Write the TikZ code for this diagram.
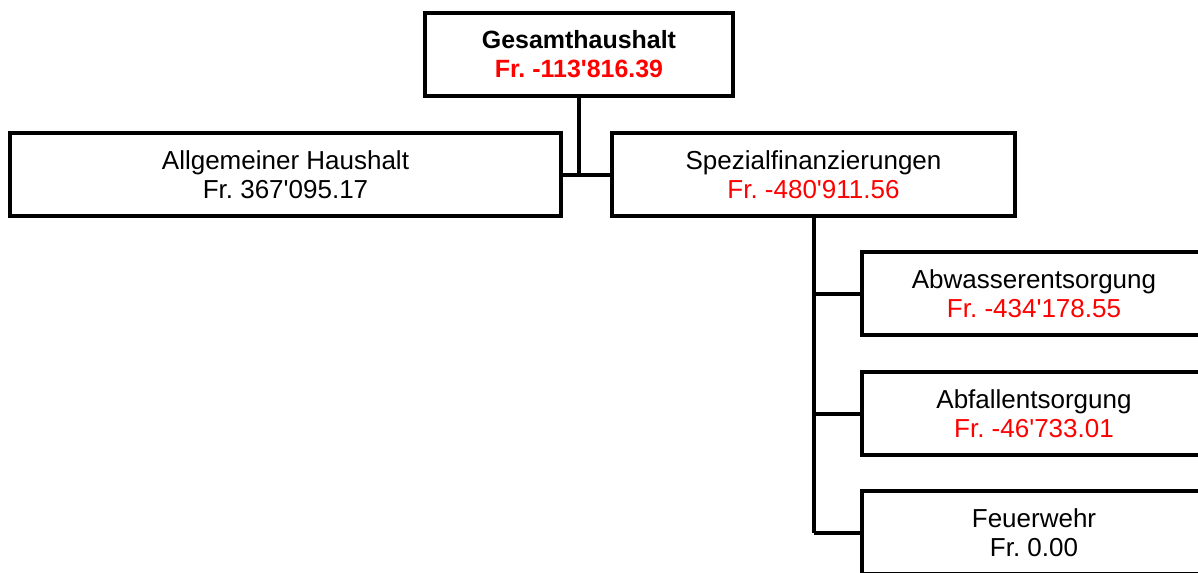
\documentclass[tikz,border=0pt]{standalone}
\usepackage{fontspec}
\setmainfont{Liberation Sans}
\usetikzlibrary{calc}
\frenchspacing

\begin{document}
\begin{tikzpicture}[x=0.02cm,y=-0.02cm,
    box/.style={draw,line width=0.09cm,align=center,inner sep=0pt,minimum height=1.66cm,font=\fontsize{14.8}{16.4}\selectfont},
    link/.style={line width=0.08cm}]
\useasboundingbox (0,0) rectangle (1198,572);

\node[box,minimum width=6.16cm,font=\bfseries\fontsize{14.2}{16.4}\selectfont] (ges) at (579,54.5) {Gesamthaushalt\\\textcolor{red}{Fr. -113\textquotesingle816.39}};

\node[box,minimum width=11.02cm] (allg) at (285.5,174.5) {Allgemeiner Haushalt\\Fr. 367\textquotesingle095.17};
\node[box,minimum width=8.06cm] (spez) at (813.5,174.5) {Spezialfinanzierungen\\\textcolor{red}{Fr. -480\textquotesingle911.56}};

\node[box,minimum width=6.88cm] (abw) at (1034,293.5) {Abwasserentsorgung\\\textcolor{red}{Fr. -434\textquotesingle178.55}};
\node[box,minimum width=6.88cm] (abf) at (1034,413.5) {Abfallentsorgung\\\textcolor{red}{Fr. -46\textquotesingle733.01}};
\node[box,minimum width=6.88cm] (feu) at (1034,532.5) {Feuerwehr\\Fr. 0.00};

\draw[link] (ges.south) -- (ges.south |- allg.east);
\draw[link] (allg.east) -- (spez.west);
\draw[link] (spez.south) -- (spez.south |- feu.west);
\foreach \n in {abw,abf,feu}
    \draw[link] (spez.south |- \n.west) -- (\n.west);

\end{tikzpicture}
\end{document}
